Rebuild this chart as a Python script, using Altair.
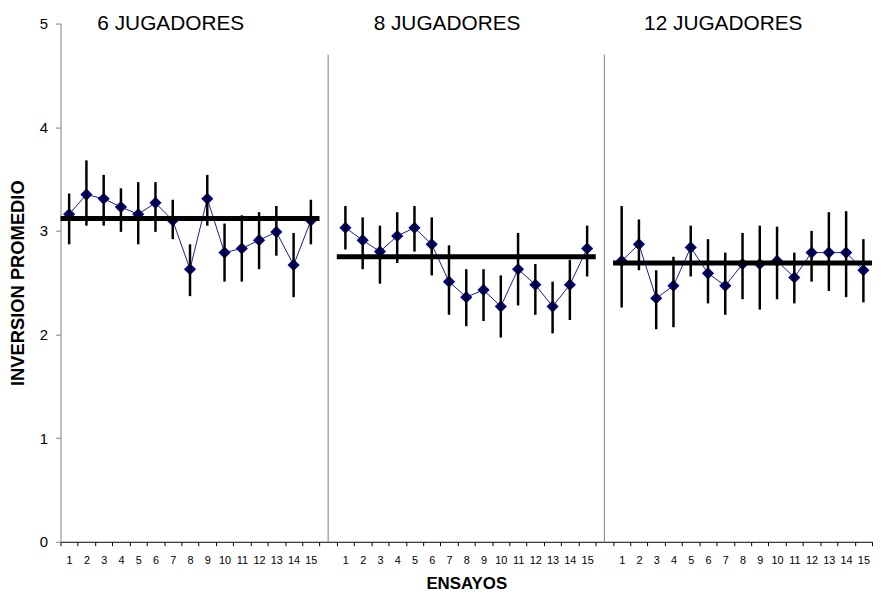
import altair as alt
import pandas as pd

# ---- data ----
group_names = ["6 JUGADORES", "8 JUGADORES", "12 JUGADORES"]
group_keys = ["A", "B", "C"]
trials = list(range(1, 16))

g1_mean = [3.16, 3.35, 3.31, 3.23, 3.16, 3.27, 3.10, 2.63, 3.31, 2.79, 2.83, 2.91, 2.99, 2.67, 3.10]
g1_lo = [2.87, 3.05, 3.05, 2.99, 2.87, 2.99, 2.92, 2.37, 3.05, 2.51, 2.51, 2.63, 2.76, 2.36, 2.87]
g1_hi = [3.36, 3.68, 3.54, 3.41, 3.47, 3.47, 3.30, 2.87, 3.54, 3.07, 3.15, 3.18, 3.24, 2.98, 3.30]

g2_mean = [3.03, 2.91, 2.80, 2.95, 3.03, 2.87, 2.51, 2.36, 2.43, 2.27, 2.63, 2.48, 2.27, 2.48, 2.83]
g2_lo = [2.82, 2.63, 2.49, 2.69, 2.80, 2.57, 2.19, 2.08, 2.13, 1.97, 2.28, 2.19, 2.01, 2.14, 2.56]
g2_hi = [3.24, 3.13, 3.05, 3.18, 3.24, 3.13, 2.86, 2.63, 2.63, 2.57, 2.98, 2.68, 2.51, 2.72, 3.05]

g3_mean = [2.71, 2.87, 2.35, 2.47, 2.84, 2.59, 2.47, 2.68, 2.68, 2.71, 2.55, 2.79, 2.79, 2.79, 2.62]
g3_lo = [2.26, 2.62, 2.05, 2.07, 2.56, 2.30, 2.19, 2.34, 2.24, 2.34, 2.30, 2.51, 2.42, 2.36, 2.31]
g3_hi = [3.24, 3.11, 2.62, 2.75, 3.05, 2.92, 2.79, 2.98, 3.05, 3.04, 2.79, 3.00, 3.18, 3.19, 2.92]

group_avg = [3.12, 2.75, 2.69]
separator_top = 4.7
title_y = 5.0

# ---- tables ----
means = [g1_mean, g2_mean, g3_mean]
los = [g1_lo, g2_lo, g3_lo]
his = [g1_hi, g2_hi, g3_hi]

rows = []
for key, name, m, lo, hi in zip(group_keys, group_names, means, los, his):
    for t, mv, l, h in zip(trials, m, lo, hi):
        rows.append(dict(cat=f"{key}{t}", group=name, mean=mv, lo=l, hi=h))
df = pd.DataFrame(rows)

order = []
for i, key in enumerate(group_keys):
    order += [f"{key}{t}" for t in trials]
    if i < len(group_keys) - 1:
        order.append(f"G{i + 1}")

df_avg = pd.DataFrame(dict(
    start=[f"{k}1" for k in group_keys],
    end=[f"{k}15" for k in group_keys],
    avg=group_avg,
))
df_sep = pd.DataFrame(dict(cat=["G1", "G2"], y0=[0.0, 0.0], y1=[separator_top] * 2))
df_title = pd.DataFrame(dict(cat=[f"{k}7" for k in group_keys], label=group_names,
                             ty=[title_y] * 3))

FONT = "Liberation Sans"

x_scale = alt.Scale(domain=order, paddingInner=0, paddingOuter=0)
x_axis = alt.Axis(
    title="ENSAYOS",
    labelExpr="isString(datum.value) ? (indexof(datum.value,'G')==0 ? '' : slice(datum.value,1)) : ''",
    tickBand="extent",
    labelAngle=0,
    labelFontSize=11,
    labelPadding=9,
    tickSize=4,
    tickColor="#000000",
    domainColor="#000000",
    labelColor="#000000",
    titleFontSize=17,
    titleFontWeight="bold",
    titlePadding=10,
    grid=False,
)
y_scale = alt.Scale(domain=[0, 5], nice=False)
y_axis = alt.Axis(
    title="INVERSION PROMEDIO",
    values=[0, 1, 2, 3, 4, 5],
    labelFontSize=15,
    labelPadding=8,
    tickSize=5,
    tickColor="#808080",
    domainColor="#808080",
    labelColor="#000000",
    titleFontSize=18.5,
    titleFontWeight="bold",
    titlePadding=12,
    grid=False,
)


def X(field, **kw):
    return alt.X(f"{field}:N", scale=x_scale, axis=x_axis, **kw)


def Y(field):
    return alt.Y(f"{field}:Q", scale=y_scale, axis=y_axis)


line = alt.Chart(df).mark_line(color="#1a1a99", strokeWidth=1).encode(
    x=X("cat"), y=Y("mean"), detail="group:N",
)

points = alt.Chart(df).mark_point(shape="diamond", filled=True, color="#000080",
                                  size=150, opacity=1).encode(
    x=X("cat"), y=Y("mean"),
)

errs = alt.Chart(df).mark_rule(color="#000000", strokeWidth=2.5).encode(
    x=X("cat"), y=Y("lo"), y2="hi:Q",
)

avg = alt.Chart(df_avg).mark_rule(color="#000000", strokeWidth=5).encode(
    x=X("start", bandPosition=0),
    x2=alt.X2("end:N", bandPosition=1),
    y=Y("avg"),
)

sep = alt.Chart(df_sep).mark_rule(color="#808080", strokeWidth=1).encode(
    x=X("cat"), y=Y("y0"), y2="y1:Q",
)

titles = alt.Chart(df_title).mark_text(
    font=FONT, fontSize=21, color="#000000", baseline="alphabetic", dx=-2, dy=6
).encode(
    x=X("cat"), y=Y("ty"), text="label:N",
)

chart = alt.layer(sep, line, points, errs, avg, titles).properties(
    width=819,
    height=523,
    padding={"left": 53, "top": 13, "right": 2, "bottom": 50},
    autosize=alt.AutoSizeParams(type="none"),
    background="white",
).configure_view(stroke=None).configure_axis(
    labelFont=FONT, titleFont=FONT, titleColor="#000000"
)

chart.save("out.html", embed_options={"renderer": "svg", "actions": False})
